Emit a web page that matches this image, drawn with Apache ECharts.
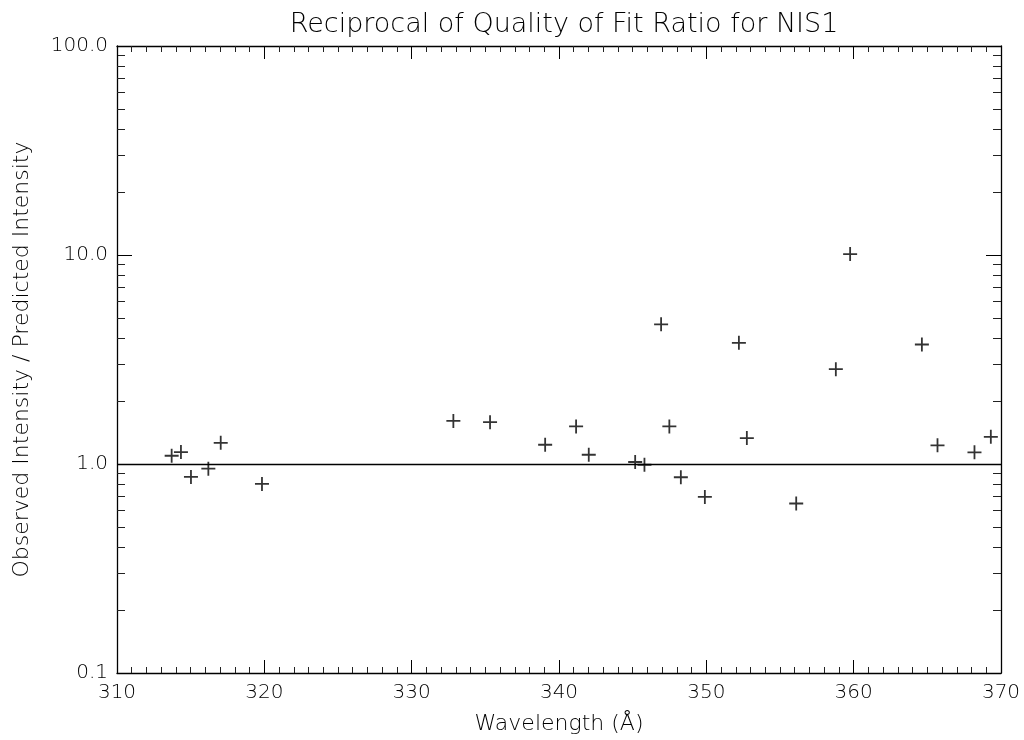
<!DOCTYPE html>
<html>
<head>
<meta charset="utf-8">
<title>Reciprocal of Quality of Fit Ratio for NIS1</title>
<script src="https://cdn.jsdelivr.net/npm/echarts@6/dist/echarts.min.js"></script>
<style>
  html, body { margin: 0; padding: 0; background: #fff; }
  #chart { width: 1024px; height: 740px; }
</style>
</head>
<body>
<div id="chart"></div>
<script>
// Line wavelengths (Å) and observed / predicted intensity ratios
const wavelength = [
  313.71, 314.34, 315.02, 316.20, 317.04, 319.84,
  332.83, 335.32, 339.06, 341.16, 342.02, 345.17,
  345.80, 346.93, 347.49, 348.27, 349.90, 352.21,
  352.75, 356.10, 358.79, 359.76, 364.63, 365.69,
  368.20, 369.31
];
const ratio = [
  1.095, 1.141, 0.867, 0.950, 1.263, 0.803,
  1.608, 1.585, 1.236, 1.512, 1.107, 1.022,
  0.992, 4.66, 1.512, 0.864, 0.696, 3.80,
  1.330, 0.647, 2.843, 10.1, 3.73, 1.228,
  1.137, 1.349
];
const yMajorTicks = [0.1, 1, 10, 100];
const yMinorTicks = [
  0.2, 0.3, 0.4, 0.5, 0.6, 0.7, 0.8, 0.9,
  2, 3, 4, 5, 6, 7, 8, 9,
  20, 30, 40, 50, 60, 70, 80, 90
];
const xMin = 310, xMax = 370, xStep = 10;
const unityLevel = 1;

const FONT = 'DejaVu Sans';
const INK = '#000';
const textStyle = { fontFamily: FONT, fontWeight: 200, fontSize: 20, color: '#000' };
const nameStyle = { fontFamily: FONT, fontWeight: 200, fontSize: 22, color: '#000' };

const chart = echarts.init(document.getElementById('chart'), null, { renderer: 'canvas' });

function xAxisDef(position, showLabels) {
  return {
    type: 'value', position: position,
    min: xMin, max: xMax, interval: xStep,
    name: showLabels ? 'Wavelength (Å)' : '',
    nameLocation: 'middle', nameGap: 40,
    nameTextStyle: nameStyle,
    axisLine: { show: true, onZero: false, lineStyle: { color: INK, width: 1.3 } },
    axisTick: { show: true, inside: true, length: 13, lineStyle: { color: INK, width: 1 } },
    minorTick: { show: true, splitNumber: 10, length: 6, lineStyle: { color: '#222', width: 1 } },
    axisLabel: Object.assign({ show: showLabels, margin: 10 }, textStyle),
    splitLine: { show: false },
    minorSplitLine: { show: false }
  };
}

function yMajorDef(position, showLabels) {
  return {
    type: 'log', logBase: 10, position: position,
    min: yMajorTicks[0], max: yMajorTicks[yMajorTicks.length - 1],
    name: showLabels ? 'Observed Intensity / Predicted Intensity' : '',
    nameLocation: 'middle', nameGap: 84,
    nameTextStyle: nameStyle,
    axisLine: { show: true, onZero: false, lineStyle: { color: INK, width: 1.3 } },
    axisTick: { show: true, inside: true, length: 15, customValues: yMajorTicks,
                lineStyle: { color: INK, width: 1 } },
    axisLabel: Object.assign({
      show: showLabels, margin: 9, customValues: yMajorTicks,
      formatter: v => Number(v).toFixed(1)
    }, textStyle),
    splitLine: { show: false }
  };
}

function yMinorDef(position) {
  return {
    type: 'log', logBase: 10, position: position,
    min: yMajorTicks[0], max: yMajorTicks[yMajorTicks.length - 1],
    axisLine: { show: false },
    axisTick: { show: true, inside: true, length: 8, customValues: yMinorTicks,
                lineStyle: { color: '#222', width: 1 } },
    axisLabel: { show: false },
    splitLine: { show: false }
  };
}

const points = wavelength.map((w, i) => [w, ratio[i]]);

chart.setOption({
  animation: false,
  backgroundColor: '#fff',
  title: {
    text: 'Reciprocal of Quality of Fit Ratio for NIS1',
    left: 559, top: 6, textAlign: 'center',
    textStyle: { fontFamily: FONT, fontWeight: 200, fontSize: 27, color: '#000' }
  },
  grid: { left: 117, right: 23, top: 46, bottom: 64, containLabel: false },
  xAxis: [xAxisDef('bottom', true), xAxisDef('top', false)],
  yAxis: [
    yMajorDef('left', true), yMinorDef('left'),
    yMajorDef('right', false), yMinorDef('right')
  ],
  series: [{
    type: 'scatter',
    xAxisIndex: 0, yAxisIndex: 0,
    data: points,
    symbol: 'path://M6,0 L6,12 M0,6 L12,6',
    symbolSize: 14,
    itemStyle: { color: 'none', borderColor: INK, borderWidth: 1.8 },
    silent: true,
    markLine: {
      silent: true,
      symbol: ['none', 'none'],
      label: { show: false },
      lineStyle: { color: INK, width: 1.4, type: 'solid' },
      data: [{ yAxis: unityLevel }]
    }
  }]
});
</script>
</body>
</html>
